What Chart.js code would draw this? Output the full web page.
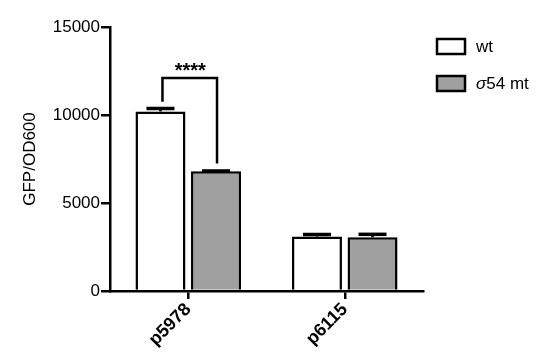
<!DOCTYPE html>
<html>
<head>
<meta charset="utf-8">
<script src="https://cdn.jsdelivr.net/npm/chart.js@4"></script>
<style>
  html, body { margin: 0; padding: 0; background: #fff; }
  #wrap { width: 550px; height: 359px; }
</style>
</head>
<body>
<div id="wrap"><canvas id="grafico"></canvas></div>
<script>
const categorias = ['p5978', 'p6115'];
const valoresWt = [10200, 3100];
const erroresWt = [170, 110];
const valoresMt = [6800, 3050];
const erroresMt = [20, 170];
const etiquetasSerie = ['wt', 'σ54 mt'];
// significance bracket for p5978: left leg, top, right leg (data values)
const corcheteP5978 = [10750, 12100, 7250];
const textoSignificancia = '****';

const fuente = 'Liberation Sans, Arial, Helvetica, sans-serif';

const barrasError = {
  id: 'barrasError',
  afterDatasetsDraw(chart) {
    const ctx = chart.ctx;
    const y = chart.scales.y;
    const errores = [erroresWt, erroresMt];
    ctx.save();
    ctx.strokeStyle = '#000';
    chart.data.datasets.forEach((ds, i) => {
      const meta = chart.getDatasetMeta(i);
      meta.data.forEach((bar, j) => {
        const top = y.getPixelForValue(ds.data[j] + errores[i][j]);
        const w = bar.width * 0.28;
        ctx.lineWidth = 2.5;
        ctx.beginPath();
        ctx.moveTo(bar.x, bar.y);
        ctx.lineTo(bar.x, top);
        ctx.stroke();
        ctx.lineWidth = 3.5;
        ctx.beginPath();
        ctx.moveTo(bar.x - w, top);
        ctx.lineTo(bar.x + w, top);
        ctx.stroke();
      });
    });

    // bracket
    const b0 = chart.getDatasetMeta(0).data[0];
    const b1 = chart.getDatasetMeta(1).data[0];
    const yl = y.getPixelForValue(corcheteP5978[0]);
    const yt = y.getPixelForValue(corcheteP5978[1]);
    const yr = y.getPixelForValue(corcheteP5978[2]);
    ctx.lineWidth = 2.5;
    ctx.beginPath();
    ctx.moveTo(b0.x + 2, yl);
    ctx.lineTo(b0.x + 2, yt);
    ctx.lineTo(b1.x + 1, yt);
    ctx.lineTo(b1.x + 1, yr);
    ctx.stroke();
    ctx.fillStyle = '#000';
    ctx.font = 'bold 20px ' + fuente;
    ctx.textAlign = 'center';
    ctx.textBaseline = 'alphabetic';
    ctx.fillText(textoSignificancia, (b0.x + b1.x) / 2 + 2, yt - 1);
    ctx.restore();
  }
};

const leyenda = {
  id: 'leyenda',
  afterDraw(chart) {
    const ctx = chart.ctx;
    const colores = ['#ffffff', '#a0a0a0'];
    ctx.save();
    ctx.lineWidth = 2.5;
    ctx.strokeStyle = '#000';
    etiquetasSerie.forEach((txt, i) => {
      const x = 437, y = 39 + i * 37;
      ctx.fillStyle = colores[i];
      ctx.fillRect(x, y, 28, 15);
      ctx.strokeRect(x, y, 28, 15);
      ctx.fillStyle = '#000';
      ctx.textBaseline = 'middle';
      ctx.textAlign = 'left';
      if (txt.startsWith('σ')) {
        ctx.font = 'italic 17px ' + fuente;
        ctx.fillText('σ', 476, y + 8);
        const w = ctx.measureText('σ').width;
        ctx.font = '17px ' + fuente;
        ctx.fillText(txt.slice(1), 476 + w, y + 8);
      } else {
        ctx.font = '17px ' + fuente;
        ctx.fillText(txt, 476, y + 8);
      }
    });
    ctx.restore();
  }
};

new Chart(document.getElementById('grafico'), {
  type: 'bar',
  data: {
    labels: categorias,
    datasets: [{
      label: etiquetasSerie[0],
      data: valoresWt,
      backgroundColor: '#ffffff',
      borderColor: '#000',
      borderWidth: 2.5
    }, {
      label: etiquetasSerie[1],
      data: valoresMt,
      backgroundColor: '#a0a0a0',
      borderColor: '#000',
      borderWidth: 2.5
    }]
  },
  options: {
    responsive: true,
    maintainAspectRatio: false,
    animation: false,
    categoryPercentage: 0.71,
    barPercentage: 0.9,
    layout: { padding: { top: 27, right: 127, bottom: 0, left: 0 } },
    plugins: {
      legend: { display: false },
      tooltip: { enabled: false }
    },
    scales: {
      x: {
        offset: true,
        grid: { offset: false, drawOnChartArea: false, drawTicks: true, tickLength: 8, color: '#000', lineWidth: 2.5 },
        border: { color: '#000', width: 2.5 },
        ticks: {
          color: '#000',
          font: { family: fuente, size: 18, weight: 'bold' },
          minRotation: 45,
          maxRotation: 45,
          padding: 0
        },
        afterFit(scale) { scale.height = 68; }
      },
      y: {
        min: 0,
        max: 15000,
        grid: { drawOnChartArea: false, drawTicks: true, tickLength: 9, color: '#000', lineWidth: 2.5 },
        border: { color: '#000', width: 2.5 },
        ticks: {
          stepSize: 5000,
          color: '#000',
          font: { family: fuente, size: 17 },
          padding: 1,
          callback: (v) => String(v)
        },
        title: {
          display: true,
          text: 'GFP/OD600',
          color: '#000',
          font: { family: fuente, size: 17 },
          padding: { top: 20, bottom: 0 }
        },
        afterFit(scale) { scale.width = 110; }
      }
    }
  },
  plugins: [barrasError, leyenda]
});
</script>
</body>
</html>
